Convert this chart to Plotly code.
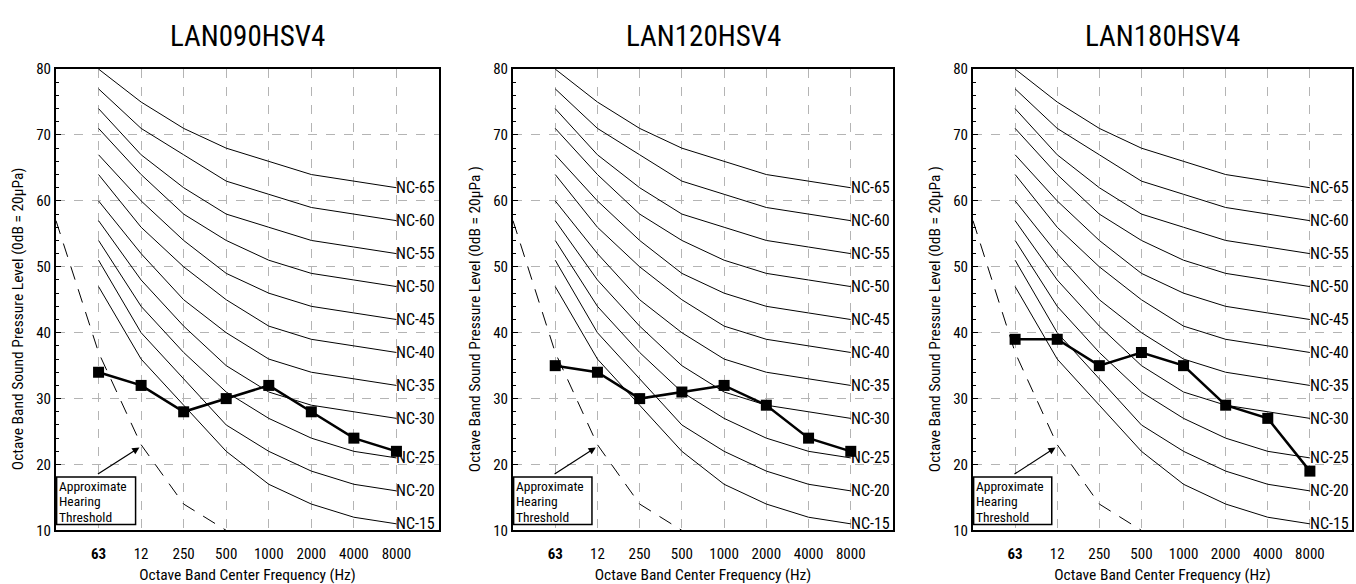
import plotly.graph_objects as go

freq_labels = ["<b>63</b>", "12", "250", "500", "1000", "2000", "4000", "8000"]
nc_names = ["NC-15", "NC-20", "NC-25", "NC-30", "NC-35", "NC-40", "NC-45", "NC-50", "NC-55", "NC-60", "NC-65"]
nc_values = [
    [47, 36, 29, 22, 17, 14, 12, 11],
    [51, 40, 33, 26, 22, 19, 17, 16],
    [54, 44, 37, 31, 27, 24, 22, 21],
    [57, 48, 41, 35, 31, 29, 28, 27],
    [60, 52, 45, 40, 36, 34, 33, 32],
    [64, 56, 50, 45, 41, 39, 38, 37],
    [67, 60, 54, 49, 46, 44, 43, 42],
    [71, 64, 58, 54, 51, 49, 48, 47],
    [74, 67, 62, 58, 56, 54, 53, 52],
    [77, 71, 67, 63, 61, 59, 58, 57],
    [80, 75, 71, 68, 66, 64, 63, 62],
]
threshold_pos = [0, 1, 2, 3, 4]
threshold_vals = [57, 37, 23, 14, 10]
threshold_lines = ["Approximate", "Hearing", "Threshold"]

models = ["LAN090HSV4", "LAN120HSV4", "LAN180HSV4"]
model_vals = [
    [34, 32, 28, 30, 32, 28, 24, 22],
    [35, 34, 30, 31, 32, 29, 24, 22],
    [39, 39, 35, 37, 35, 29, 27, 19],
]
ytitles = [
    "Octave Band Sound Pressure Level (0dB = 20μPa)",
    "Octave Band Sound Pressure Level (0dB = 20μPa )",
    "Octave Band Sound Pressure Level (0dB = 20μPa )",
]
xtitle = "Octave Band Center Frequency (Hz)"

FONT = "Roboto Condensed, Liberation Sans Narrow, DejaVu Sans Condensed, sans-serif"
W, H = 1356, 584
x_px = [(56, 439), (513, 893), (973, 1352)]
x_domains = [(a / W, b / W) for a, b in x_px]
y_domain = (1 - 538 / H, 1 - 62 / H)

pos = [i + 1 for i in range(len(freq_labels))]

fig = go.Figure()
annotations = []
shapes = []
for k in range(3):
    xa = "x" if k == 0 else f"x{k+1}"
    ya = "y" if k == 0 else f"y{k+1}"
    for name, vals in zip(nc_names, nc_values):
        fig.add_trace(go.Scatter(x=pos, y=vals, mode="lines", xaxis=xa, yaxis=ya,
                                 line=dict(color="black", width=1), showlegend=False, hoverinfo="skip"))
        annotations.append(dict(x=pos[-1], y=vals[-1], xref=xa, yref=ya, text=name, showarrow=False,
                                xanchor="left", yanchor="middle", xshift=-2,
                                font=dict(family=FONT, size=16, color="black")))
    fig.add_trace(go.Scatter(x=threshold_pos, y=threshold_vals, mode="lines", xaxis=xa, yaxis=ya,
                             line=dict(color="black", width=1, dash="14px,10px"), showlegend=False))
    fig.add_trace(go.Scatter(x=pos, y=model_vals[k], mode="lines+markers", xaxis=xa, yaxis=ya,
                             line=dict(color="black", width=2.5),
                             marker=dict(symbol="square", size=11, color="black"),
                             showlegend=False, name=models[k]))
    # hearing threshold box
    shapes.append(dict(type="rect", xref=xa, yref=ya, x0=0.015, x1=1.87, y0=10.9, y1=18.1,
                       line=dict(color="black", width=1.5), fillcolor="white", layer="above"))
    for j, t in enumerate(threshold_lines):
        annotations.append(dict(x=0.05, y=16.75 - j * 2.35, xref=xa, yref=ya, text=t, showarrow=False,
                                xanchor="left", yanchor="middle", borderpad=0,
                                font=dict(family=FONT, size=13.5, color="black")))
    annotations.append(dict(x=1.96, y=22.6, ax=0.95, ay=18.4, xref=xa, yref=ya, axref=xa, ayref=ya,
                            text="", showarrow=True, arrowhead=2, arrowsize=1.2, arrowwidth=1.2,
                            arrowcolor="black"))
    # title
    annotations.append(dict(x=sum(x_domains[k]) / 2, y=1 - 28 / H, xref="paper", yref="paper",
                            text=models[k], showarrow=False, xanchor="center", yanchor="middle",
                            font=dict(family=FONT, size=29, color="black")))
    # y axis title
    annotations.append(dict(x=(x_px[k][0] - 38) / W, y=1 - 320 / H, xref="paper", yref="paper",
                            text=ytitles[k], showarrow=False, textangle=-90,
                            xanchor="center", yanchor="middle",
                            font=dict(family=FONT, size=15.5, color="black")))

    axis_common = dict(showline=True, linecolor="black", linewidth=2, mirror=True,
                       showgrid=True, gridcolor="#b4b4b4", griddash="dash", gridwidth=1,
                       zeroline=False, tickfont=dict(family=FONT, size=15, color="black"))
    xaxis = dict(domain=list(x_domains[k]), range=[0, 9], tickvals=pos, ticktext=freq_labels,
                 anchor=ya, ticks="", ticklabelstandoff=9,
                 title=dict(text=xtitle, standoff=7, font=dict(family=FONT, size=15.5, color="black")),
                 **axis_common)
    yaxis = dict(domain=list(y_domain), range=[10, 80], dtick=10, tick0=10, anchor=xa,
                 ticks="inside", ticklen=5, tickcolor="black",
                 minor=dict(dtick=2, tick0=10, ticks="inside", ticklen=3, tickcolor="black", showgrid=False),
                 **axis_common)
    fig.layout["xaxis" if k == 0 else f"xaxis{k+1}"] = xaxis
    fig.layout["yaxis" if k == 0 else f"yaxis{k+1}"] = yaxis

fig.update_layout(width=W, height=H, margin=dict(l=0, r=0, t=0, b=0),
                  paper_bgcolor="white", plot_bgcolor="white", annotations=annotations, shapes=shapes,
                  font=dict(family=FONT, color="black"))
fig.write_html("out.html")
